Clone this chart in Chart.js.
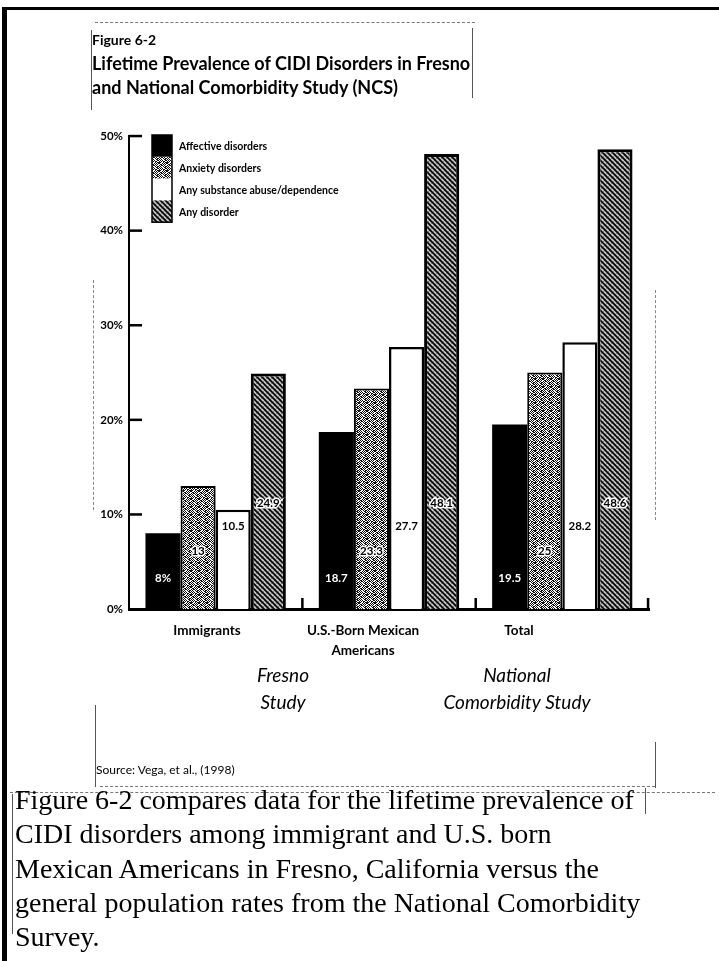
<!DOCTYPE html>
<html>
<head>
<meta charset="utf-8">
<script src="https://cdn.jsdelivr.net/npm/chart.js@4.4.1/dist/chart.umd.min.js"></script>
<style>
  html, body { margin: 0; padding: 0; background: #fff; }
  body { width: 719px; height: 961px; position: relative; overflow: hidden; font-family: Lato, 'Open Sans', sans-serif; color: #000; }
  #frame { position: absolute; left: 2px; top: 7px; width: 712px; height: 970px; border-left: 5px solid #000; border-top: 3px solid #000; border-right: 2px solid #000; }
  #wrap { position: absolute; left: 0; top: 0; width: 719px; height: 800px; }
  .fig { position: absolute; left: 92px; top: 31px; font-weight: 700; font-size: 14px; line-height: 18px; }
  .title { position: absolute; left: 92px; top: 51px; font-weight: 700; font-size: 18px; line-height: 24px; }
  .source { position: absolute; left: 96px; top: 762px; font-size: 12px; line-height: 16px; }
  .para { position: absolute; left: 15px; top: 783px; width: 700px; font-family: 'Liberation Serif', 'Times New Roman', serif; font-size: 28px; line-height: 34.3px; white-space: nowrap; }
  .ln { position: absolute; background: #555; }
  .dash { position: absolute; border-top: 1px dashed #777; height: 0; }
  .vdash { position: absolute; border-left: 1px dashed #888; width: 0; }
</style>
</head>
<body>
<div id="frame"></div>
<div id="wrap"><canvas id="chart" width="719" height="800"></canvas></div>

<div class="dash" style="left:95px; top:22px; width:380px;"></div>
<div class="ln" style="left:91px; top:30px; width:1px; height:80px;"></div>
<div class="ln" style="left:472px; top:28px; width:1px; height:70px;"></div>
<div class="vdash" style="left:93px; top:280px; height:230px;"></div>
<div class="vdash" style="left:655px; top:290px; height:230px;"></div>
<div class="ln" style="left:95px; top:705px; width:1px; height:82px;"></div>
<div class="ln" style="left:655px; top:742px; width:1px; height:46px;"></div>
<div class="dash" style="left:100px; top:786px; width:555px;"></div>
<div class="dash" style="left:10px; top:792px; width:705px;"></div>
<div class="ln" style="left:12px; top:794px; width:1px; height:140px;"></div>
<div class="ln" style="left:645px; top:788px; width:1px; height:26px;"></div>

<div class="fig">Figure 6-2</div>
<div class="title">Lifetime Prevalence of CIDI Disorders in Fresno<br>and National Comorbidity Study (NCS)</div>
<div class="source">Source: Vega, et al., (1998)</div>
<div class="para">Figure 6-2 compares data for the lifetime prevalence of<br>CIDI disorders among immigrant and U.S. born<br>Mexican Americans in Fresno, California versus the<br>general population rates from the National Comorbidity<br>Survey.</div>

<script>
// Lifetime prevalence (%)
const CATEGORIES = [['Immigrants'], ['U.S.-Born Mexican', 'Americans'], ['Total']];
const SERIES_NAMES = ['Affective disorders', 'Anxiety disorders', 'Any substance abuse/dependence', 'Any disorder'];
const AFFECTIVE = [8.0, 18.7, 19.5];
const ANXIETY = [13.0, 23.3, 25.0];
const SUBSTANCE = [10.5, 27.7, 28.2];
const ANY_DISORDER = [24.9, 48.1, 48.6];
const AFFECTIVE_LABELS = ['8%', '18.7', '19.5'];
const ANXIETY_LABELS = ['13', '23.3', '25'];
const SUBSTANCE_LABELS = ['10.5', '27.7', '28.2'];
const ANY_LABELS = ['24.9', '48.1', '48.6'];
const Y_MAX = 50;
const Y_STEP = 10;
// study groups: lines of text and the categories they span
const GROUP_TEXT = [['Fresno', 'Study'], ['National', 'Comorbidity Study']];
const GROUP_SPAN = [[0, 1], [2, 2]];

// where the value labels sit inside each bar (in axis units)
const LABEL_LEVEL = [3.2, 6.1, 8.7, 11.2];
const LABEL_SHRINK = 0.9; // category text in the original is squeezed toward the axis

function speckle() {
  const c = document.createElement('canvas');
  c.width = c.height = 8;
  const g = c.getContext('2d');
  g.fillStyle = '#fff';
  g.fillRect(0, 0, 8, 8);
  g.fillStyle = '#111';
  const rows = ['10100110', '01011001', '10010111', '00101011', '11010100', '01101001', '10010110', '01001101'];
  rows.forEach((r, y) => [...r].forEach((b, x) => { if (b === '1') g.fillRect(x, y, 1, 1); }));
  return g.createPattern(c, 'repeat');
}

function hatch() {
  const s = 5;
  const c = document.createElement('canvas');
  c.width = c.height = s;
  const g = c.getContext('2d');
  g.fillStyle = '#c4c4c4';
  g.fillRect(0, 0, s, s);
  g.strokeStyle = '#777';
  g.lineWidth = 0.8;
  g.beginPath();
  g.moveTo(-1, s + 1); g.lineTo(s + 1, -1);
  g.stroke();
  g.strokeStyle = '#000';
  g.lineWidth = 1.6;
  g.beginPath();
  g.moveTo(-1, -1); g.lineTo(s + 1, s + 1);
  g.moveTo(-1, s - 1); g.lineTo(1, s + 1);
  g.moveTo(s - 1, -1); g.lineTo(s + 1, 1);
  g.stroke();
  return g.createPattern(c, 'repeat');
}

const FILLS = ['#000', speckle(), '#fff', hatch()];
const BORDERS = [0, 2, 2.5, 3];
const LABELS = [AFFECTIVE_LABELS, ANXIETY_LABELS, SUBSTANCE_LABELS, ANY_LABELS];
const SERIES = [AFFECTIVE, ANXIETY, SUBSTANCE, ANY_DISORDER];

const overlay = {
  id: 'overlay',
  afterDatasetsDraw(chart) {
    const ctx = chart.ctx;
    const y = chart.scales.y;
    ctx.save();
    ctx.font = 'bold 11.5px Lato, sans-serif';
    ctx.textAlign = 'center';
    ctx.textBaseline = 'middle';
    chart.data.datasets.forEach((ds, d) => {
      chart.getDatasetMeta(d).data.forEach((bar, i) => {
        const ty = y.getPixelForValue(LABEL_LEVEL[d]);
        const txt = LABELS[d][i];
        if (d === 0) {
          ctx.fillStyle = '#fff';
        } else {
          ctx.lineWidth = 3;
          ctx.strokeStyle = '#fff';
          ctx.strokeText(txt, bar.x, ty);
          ctx.fillStyle = '#000';
        }
        ctx.fillText(txt, bar.x, ty);
      });
    });
    ctx.restore();
  },
  afterDraw(chart) {
    const ctx = chart.ctx;
    const {left, right, top, bottom} = chart.chartArea;
    const x = chart.scales.x;
    const y = chart.scales.y;
    ctx.save();
    ctx.fillStyle = '#000';
    // inward y tick marks
    y.ticks.forEach(t => {
      if (t.value === 0) return;
      ctx.fillRect(left, y.getPixelForValue(t.value) - 1.2, 13, 2.5);
    });
    // small upward marks between the groups
    const n = CATEGORIES.length;
    for (let i = 1; i <= n; i++) {
      const px = i < n ? (x.getPixelForValue(i - 1) + x.getPixelForValue(i)) / 2 : right - 1;
      ctx.fillRect(px - 1.2, bottom - 11, 2.5, 11);
    }
    // legend stacked at the top-left of the plot
    const lx = left + 23, lw = 20, lh = 21.8;
    let ly = top - 1;
    ctx.font = 'bold 10.5px Lato, sans-serif';
    ctx.textBaseline = 'middle';
    ctx.textAlign = 'left';
    SERIES_NAMES.forEach((name, d) => {
      ctx.fillStyle = FILLS[d];
      ctx.fillRect(lx, ly + d * lh, lw, lh);
      ctx.fillStyle = '#000';
      ctx.fillText(name, lx + 27, ly + d * lh + lh / 2 + 1);
    });
    ctx.lineWidth = 1.5;
    ctx.strokeStyle = '#000';
    ctx.strokeRect(lx, ly, lw, lh * 4);
    // category labels
    const squeeze = px => left + (px - left) * LABEL_SHRINK;
    ctx.textAlign = 'center';
    ctx.font = 'bold 13.5px Lato, sans-serif';
    CATEGORIES.forEach((lines, i) => {
      const cx = squeeze(x.getPixelForValue(i));
      lines.forEach((l, k) => ctx.fillText(l, cx, bottom + 22 + k * 20));
    });
    // study group labels
    ctx.font = 'italic 19px Lato, sans-serif';
    GROUP_TEXT.forEach((lines, g) => {
      const [a, b] = GROUP_SPAN[g];
      const cx = squeeze((x.getPixelForValue(a) + x.getPixelForValue(b)) / 2) - 2;
      lines.forEach((l, k) => ctx.fillText(l, cx, bottom + 67 + k * 27));
    });
    ctx.restore();
  }
};

new Chart(document.getElementById('chart'), {
  type: 'bar',
  data: {
    labels: CATEGORIES.map(c => c.join(' ')),
    datasets: SERIES.map((vals, d) => ({
      label: SERIES_NAMES[d],
      data: vals,
      backgroundColor: FILLS[d],
      borderColor: '#000',
      borderWidth: BORDERS[d],
      borderSkipped: 'bottom',
      barPercentage: 1.0,
      categoryPercentage: 0.81
    }))
  },
  options: {
    responsive: false,
    animation: false,
    devicePixelRatio: 1,
    layout: { padding: { left: 89, top: 136, right: 70, bottom: 191 } },
    plugins: { legend: { display: false }, tooltip: { enabled: false } },
    scales: {
      x: {
        grid: { display: false, drawTicks: false },
        border: { display: true, color: '#000', width: 3 },
        ticks: { display: false },
        afterFit: s => { s.height = 0; }
      },
      y: {
        min: 0, max: Y_MAX,
        grid: { display: false, drawTicks: false },
        border: { display: true, color: '#000', width: 2 },
        ticks: {
          stepSize: Y_STEP,
          padding: 6,
          color: '#000',
          font: { family: 'Lato, sans-serif', size: 11.5, weight: 'bold' },
          callback: v => v + '%'
        },
        afterFit: s => { s.width = 40; }
      }
    }
  },
  plugins: [overlay]
});
</script>
</body>
</html>
